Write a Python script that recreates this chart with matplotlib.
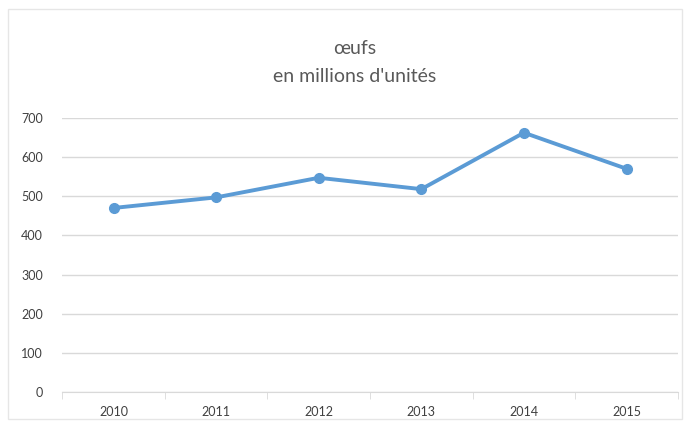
import matplotlib.pyplot as plt
import numpy as np

years = ['2010', '2011', '2012', '2013', '2014', '2015']
oeufs = [470, 497, 547, 518, 662, 570]
yticks = [0, 100, 200, 300, 400, 500, 600, 700]

plt.rcParams['font.family'] = ['Lato', 'DejaVu Sans']

fig = plt.figure(figsize=(6.84, 4.30), dpi=100)
ax = fig.add_axes([0.091, 0.088, 0.9, 0.638])

x = np.arange(len(years))
ax.plot(x, oeufs, color='#5B9BD5', linewidth=2.8, marker='o', markersize=7,
        solid_capstyle='round', zorder=3)

ax.set_xlim(-0.5, len(years) - 0.5)
ax.set_ylim(0, 700)
ax.set_yticks(yticks)
ax.set_yticklabels([str(v) for v in yticks], color='#404040', fontsize=9)
ax.set_xticks(x)
ax.set_xticklabels(years, color='#404040', fontsize=9)
ax.tick_params(axis='x', length=0, pad=10)
ax.tick_params(axis='y', length=0, pad=14)
ax.set_xticks(np.arange(-0.5, len(years)), minor=True)
ax.tick_params(axis='x', which='minor', length=5, color='#d9d9d9')

ax.grid(axis='y', color='#d9d9d9', linewidth=1)
ax.set_axisbelow(True)
for s in ['top', 'right', 'left']:
    ax.spines[s].set_visible(False)
ax.spines['bottom'].set_color('#d9d9d9')

fig.text(0.518, 0.855, "œufs\nen millions d'unités", ha='center', va='center',
         fontsize=14, color='#595959', linespacing=1.75)

# cadre gris clair autour du graphique
fig.patches.append(plt.Rectangle((0.012, 0.025), 0.985, 0.955, transform=fig.transFigure,
                                 fill=False, edgecolor='#e6e6e6', linewidth=1))

fig.savefig('out.png', dpi=100)
